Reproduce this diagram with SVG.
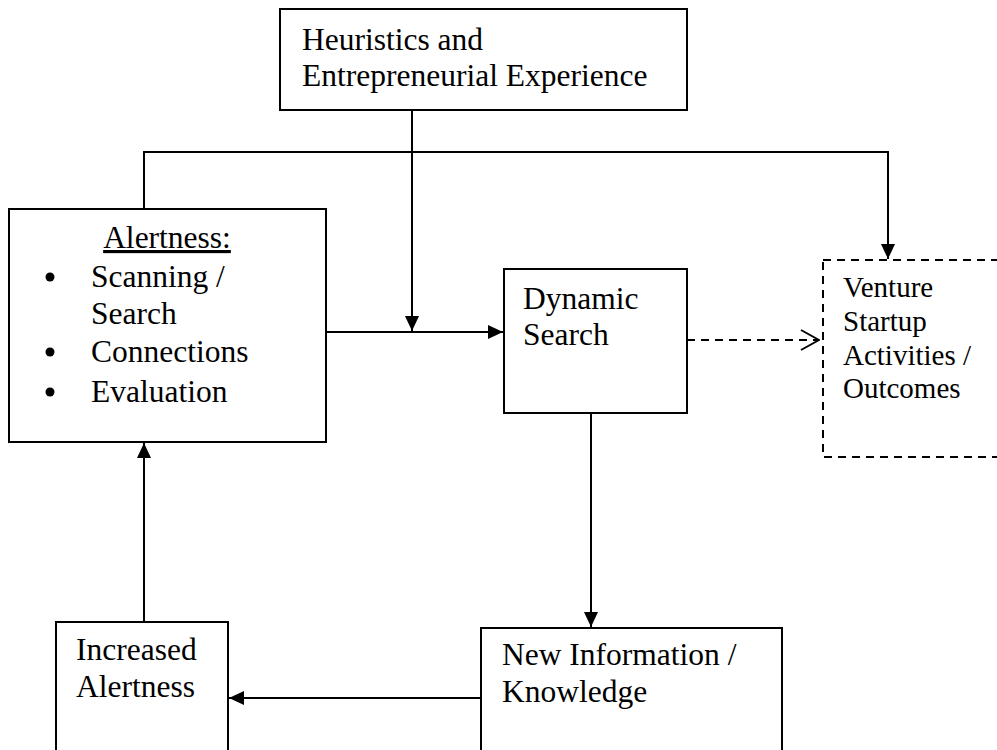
<svg xmlns="http://www.w3.org/2000/svg" width="997" height="750" viewBox="0 0 997 750">
<defs>
<marker id="ah" viewBox="0 0 15 14" refX="15" refY="7" markerWidth="15" markerHeight="14" markerUnits="userSpaceOnUse" orient="auto">
<path d="M0,0 L15,7 L0,14 Z" fill="#000"/>
</marker>
<marker id="oh" viewBox="0 0 20 22" refX="19" refY="11" markerWidth="20" markerHeight="22" markerUnits="userSpaceOnUse" orient="auto">
<path d="M1,1 L19,11 L1,21" fill="none" stroke="#000" stroke-width="2"/>
</marker>
</defs>
<style>
.box{fill:#fff;stroke:#000;stroke-width:2}
.dbox{fill:#fff;stroke:#000;stroke-width:2;stroke-dasharray:8,6}
.t{font-family:"Liberation Serif","Times New Roman",serif;font-size:31.5px;fill:#000}
.ts{font-family:"Liberation Serif","Times New Roman",serif;font-size:29px;fill:#000}
.c{fill:none;stroke:#000;stroke-width:2}
</style>
<rect width="997" height="750" fill="#fff"/>
<g id="connectors">
<path class="c" d="M144,209 V152 H888 V259" marker-end="url(#ah)"/>
<path class="c" d="M412,110 V331" marker-end="url(#ah)"/>
<path class="c" d="M326,332 H503" marker-end="url(#ah)"/>
<path class="c" d="M687,340 H819" stroke-dasharray="8,6" marker-end="url(#oh)"/>
<path class="c" d="M591,413 V627" marker-end="url(#ah)"/>
<path class="c" d="M481,698 H229" marker-end="url(#ah)"/>
<path class="c" d="M144,622 V443" marker-end="url(#ah)"/>
</g>
<g id="heuristics">
<rect class="box" x="280" y="9" width="407" height="101"/>
<text class="t" x="302" y="50">Heuristics and</text>
<text class="t" x="302" y="86">Entrepreneurial Experience</text>
</g>
<g id="alertness">
<rect class="box" x="9" y="209" width="317" height="233"/>
<text class="t" x="167" y="248" text-anchor="middle" text-decoration="underline">Alertness:</text>
<circle cx="50" cy="277" r="4.5"/>
<text class="t" x="91" y="287">Scanning /</text>
<text class="t" x="91" y="324">Search</text>
<circle cx="50" cy="352" r="4.5"/>
<text class="t" x="91" y="362">Connections</text>
<circle cx="50" cy="392" r="4.5"/>
<text class="t" x="91" y="402">Evaluation</text>
</g>
<g id="dynamic">
<rect class="box" x="504" y="269" width="183" height="144"/>
<text class="t" x="523" y="309">Dynamic</text>
<text class="t" x="523" y="345">Search</text>
</g>
<g id="venture">
<rect class="dbox" x="823" y="260" width="200" height="197"/>
<text class="ts" x="843" y="297">Venture</text>
<text class="ts" x="843" y="331">Startup</text>
<text class="ts" x="843" y="365">Activities /</text>
<text class="ts" x="843" y="398">Outcomes</text>
</g>
<g id="newinfo">
<rect class="box" x="481" y="628" width="301" height="140"/>
<text class="t" x="502" y="665">New Information /</text>
<text class="t" x="502" y="702">Knowledge</text>
</g>
<g id="increased">
<rect class="box" x="56" y="622" width="172" height="146"/>
<text class="t" x="76" y="660">Increased</text>
<text class="t" x="76" y="697">Alertness</text>
</g>
</svg>
